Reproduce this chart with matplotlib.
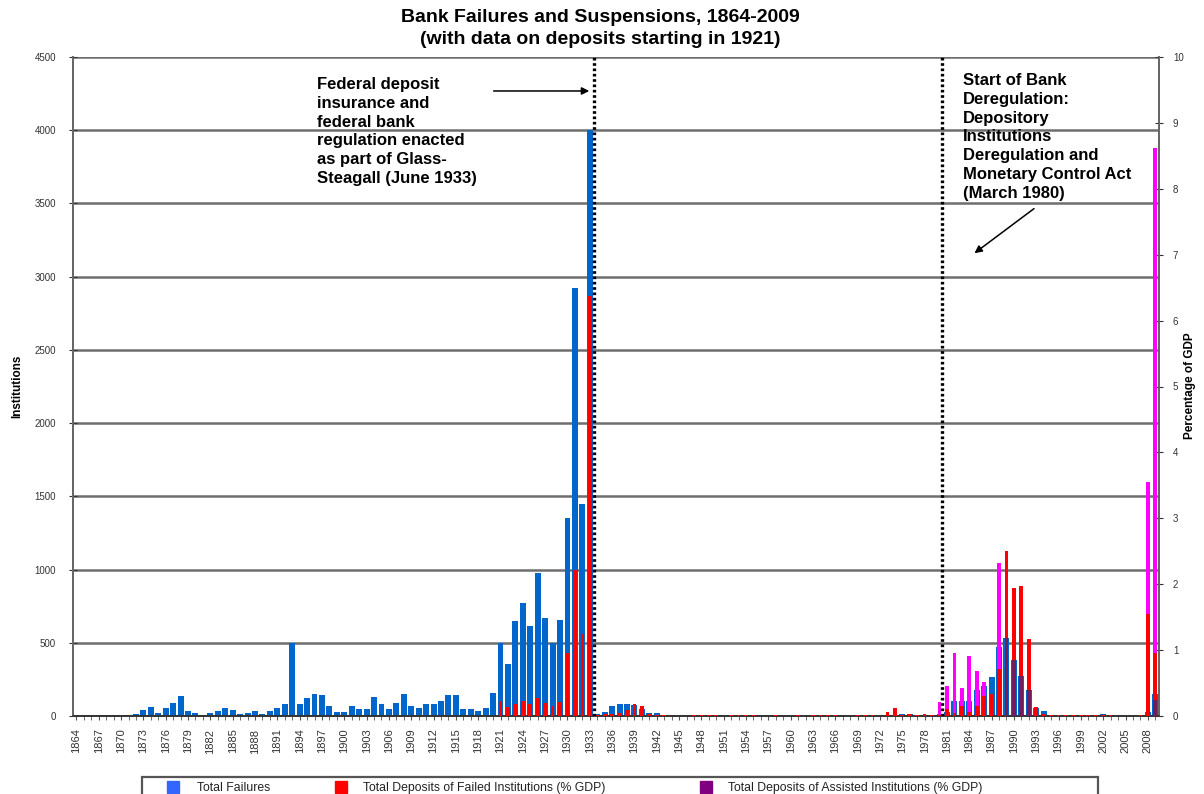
import numpy as np
import matplotlib
matplotlib.use("Agg")
import matplotlib.pyplot as plt
from matplotlib.patches import Rectangle

plt.rcParams['font.family'] = ['Liberation Sans', 'DejaVu Sans']

years = list(range(1864, 2010))

# total failures / suspensions (institutions)
failures = [
    8, 8, 8, 8, 8, 8, 8, 8, 15, 39,                      # 1864-1873
    59, 20, 57, 91, 137, 34, 20, 9, 20, 32,              # 1874-1883
    57, 43, 16, 23, 32, 16, 34, 57, 80, 497,             # 1884-1893
    84, 123, 153, 146, 66, 27, 27, 66, 48, 48,           # 1894-1903
    130, 80, 46, 89, 153, 71, 55, 80, 80, 103,           # 1904-1913
    146, 146, 48, 48, 36, 55, 160, 497, 358, 648,        # 1914-1923
    775, 613, 978, 670, 497, 654, 1350, 2920, 1450, 4000,  # 1924-1933
    12, 30, 68, 80, 80, 72, 48, 23, 23, 8,               # 1934-1943
    2, 1, 2, 6, 3, 5,                                    # 1944-1949
    5, 2, 4, 5, 4, 5, 3, 3, 9, 3,                        # 1950-1959
    2, 9, 3, 2, 8, 9, 8, 4, 3, 9,                        # 1960-1969
    8, 6, 3, 6, 4, 14, 17, 6, 7, 10,                     # 1970-1979
    11, 25, 105, 100, 100, 175, 205, 265, 470, 535,      # 1980-1989
    382, 270, 180, 54, 31, 10, 6, 1, 3, 8,               # 1990-1999
    7, 4, 11, 3, 4, 0, 0, 3, 25, 148,                    # 2000-2009
]

# deposits of failed institutions, % of GDP (from 1921)
failed_dep_years = list(range(1921, 2010))
failed_dep_vals = [
    0.23, 0.13, 0.18, 0.23, 0.18, 0.28, 0.20, 0.15, 0.21, 0.96, 2.21, 1.24, 6.38,  # 1921-1933
    0.02, 0.03, 0.03, 0.05, 0.09, 0.18, 0.15, 0.03, 0.02, 0.01,                    # 1934-1943
    0.00, 0.00, 0.00, 0.01, 0.01, 0.01,
    0.01, 0.00, 0.01, 0.01, 0.01, 0.01, 0.00, 0.00, 0.01, 0.00,
    0.00, 0.01, 0.00, 0.01, 0.02, 0.01, 0.01, 0.00, 0.00, 0.01,
    0.01, 0.01, 0.00, 0.06, 0.12, 0.02, 0.03, 0.01, 0.03, 0.01,
    0.02, 0.10, 0.05, 0.15, 0.06, 0.15, 0.30, 0.33, 0.72, 2.50,
    1.94, 1.97, 1.17, 0.13, 0.03, 0.02, 0.02, 0.01, 0.01, 0.01,
    0.01, 0.02, 0.02, 0.01, 0.00, 0.00, 0.00, 0.02, 1.55, 0.96,
]

# magenta bars (legend row cut off in the original)
magenta_years = [1980, 1981, 1982, 1983, 1984, 1985, 1986, 1987, 1988, 2008, 2009]
magenta_vals = [0.21, 0.45, 0.96, 0.42, 0.91, 0.69, 0.51, 0.25, 2.32, 3.55, 8.62]

# deposits of assisted institutions, % of GDP
assisted_years = [1989, 1990, 1991, 1992, 2009]
assisted_vals = [1.19, 0.85, 0.60, 0.40, 0.25]

xtick_years = years[::3]


def full(yrs, vals):
    out = np.zeros(len(years))
    for y, v in zip(yrs, vals):
        out[years.index(y)] = v
    return out


failed_dep = full(failed_dep_years, failed_dep_vals)
magenta_dep = full(magenta_years, magenta_vals)
assisted_dep = full(assisted_years, assisted_vals)

W, H = 1204, 794
fig = plt.figure(figsize=(W / 100, H / 100), dpi=100)
ax = fig.add_axes([72.7 / W, 1 - 716 / H, (1159 - 72.7) / W, (716 - 57) / H])
ax2 = ax.twinx()

ax.bar(years, failures, width=0.8, color='#0066CC', zorder=2)
ax2.bar(years, magenta_dep, width=0.5, color='#FF00FF', zorder=3)
ax2.bar(years, failed_dep, width=0.5, color='#FF0000', zorder=4)
ax2.bar(years, assisted_dep, width=0.5, color='#3A2A80', alpha=0.7, zorder=5)

ax.set_xlim(1863.5, 2009.5)
ax.set_ylim(0, 4500)
ax2.set_ylim(0, 10)

ax.set_yticks(range(0, 4501, 500))
ax2.set_yticks(range(0, 11))
ax.yaxis.grid(True, color='#6e6e6e', lw=1.8)
ax.set_axisbelow(True)

ax.set_xticks(xtick_years)
ax.set_xticks(years, minor=True)
ax.set_xticklabels([str(y) for y in xtick_years], rotation=90, fontsize=8, color='#333333')
ax.tick_params(axis='x', which='both', length=3, color='#555555', pad=6)
ax.tick_params(axis='y', direction='inout', length=6, labelsize=7, colors='#333333', pad=9)
ax2.tick_params(axis='y', direction='inout', length=6, labelsize=7, colors='#333333', pad=7)

for a in (ax, ax2):
    a.spines['top'].set_visible(False)
    for s in ('left', 'right'):
        a.spines[s].set_color('#666666')
        a.spines[s].set_linewidth(1.3)
    a.spines['bottom'].set_color('#333333')
    a.spines['bottom'].set_linewidth(1.2)

# regime lines
for xv in (1933.5, 1980.3):
    ax2.axvline(xv, color='black', ls=(0, (0.8, 0.8)), lw=2.4, zorder=6)

# titles and axis labels
fig.text(600 / W, 1 - 17 / H, 'Bank Failures and Suspensions, 1864-2009',
         ha='center', va='center', fontsize=14, fontweight='bold')
fig.text(600 / W, 1 - 40 / H, '(with data on deposits starting in 1921)',
         ha='center', va='center', fontsize=14, fontweight='bold')
fig.text(17 / W, 1 - 386 / H, 'Institutions', rotation=90, ha='center', va='center',
         fontsize=8.5, fontweight='bold')
fig.text(1190 / W, 1 - 386 / H, 'Percentage of GDP', rotation=90, ha='center', va='center',
         fontsize=8.5, fontweight='bold')

# annotations
ax.text(1896.4, 4364, 'Federal deposit\ninsurance and\nfederal bank\nregulation enacted\n'
        'as part of Glass-\nSteagall (June 1933)', ha='left', va='top',
        fontsize=12, fontweight='bold', linespacing=1.32, zorder=7)
ax.annotate('', xy=(1933.3, 4268), xytext=(1919.7, 4268),
            arrowprops=dict(arrowstyle='-|>', color='black', lw=1.1, mutation_scale=11))
ax.text(1983.2, 4391, 'Start of Bank\nDeregulation:\nDepository\nInstitutions\n'
        'Deregulation and\nMonetary Control Act\n(March 1980)', ha='left', va='top',
        fontsize=12, fontweight='bold', linespacing=1.32, zorder=7)
ax.annotate('', xy=(1984.4, 3149), xytext=(1993.0, 3476),
            arrowprops=dict(arrowstyle='-|>', color='black', lw=1.1, mutation_scale=11))

# legend (bottom row cut off by the figure edge, as in the original)
fig.add_artist(Rectangle((142 / W, -30 / H), (1098 - 142) / W, (794 - 777 + 30) / H,
                         transform=fig.transFigure, fill=False, edgecolor='#555555',
                         lw=1.6, clip_on=False))
legend_items = [(167, 197, '#3366FF', 'Total Failures'),
                (335, 363, '#FF0000', 'Total Deposits of Failed Institutions (% GDP)'),
                (700, 728, '#800080', 'Total Deposits of Assisted Institutions (% GDP)')]
for px, tx, col, lab in legend_items:
    fig.add_artist(Rectangle((px / W, 1 - 793 / H), 12 / W, 12 / H,
                             transform=fig.transFigure, color=col))
    fig.text(tx / W, 1 - 788 / H, lab, ha='left', va='center', fontsize=8.8, color='#222222')

fig.savefig('out.png', dpi=100)
